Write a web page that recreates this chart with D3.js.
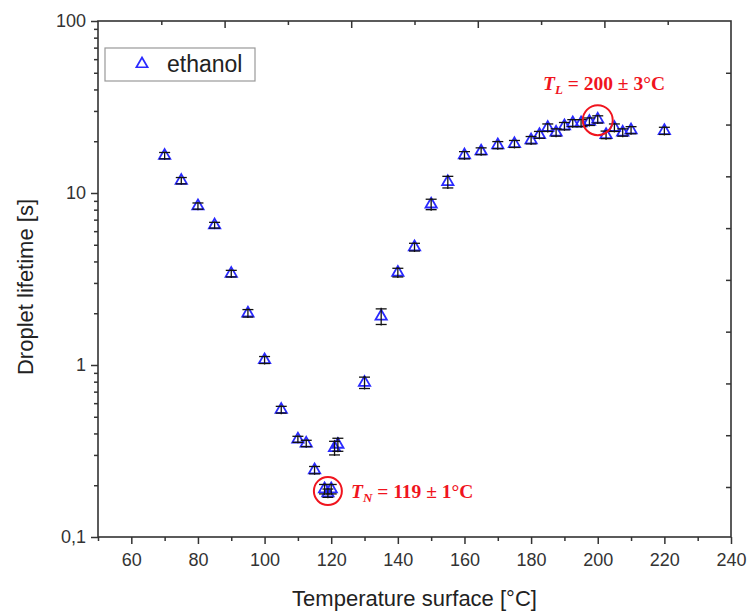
<!DOCTYPE html>
<html>
<head>
<meta charset="utf-8">
<script src="https://cdn.jsdelivr.net/npm/d3@7"></script>
<style>
  html, body { margin: 0; padding: 0; background: #fff; }
  svg { display: block; }
</style>
</head>
<body>
<div id="chart"></div>
<script>
// Surface temperature [°C]
const temperatures = [70, 75, 80, 85, 90, 95, 100, 105, 110, 112.5, 115, 118, 119, 120, 121, 122,
  130, 135, 140, 145, 150, 155, 160, 165, 170, 175, 180, 182.5, 185, 187.5, 190, 192.5, 195,
  197.5, 200, 202.5, 205, 207.5, 210, 220];
// Droplet lifetime [s]
const lifetimes = [16.5, 11.8, 8.4, 6.5, 3.4, 2.0, 1.07, 0.55, 0.37, 0.35, 0.245, 0.19, 0.18, 0.19, 0.33, 0.345,
  0.79, 1.92, 3.45, 4.85, 8.6, 11.6, 16.6, 17.5, 19.0, 19.3, 20.3, 21.8, 24.0, 22.5, 24.5, 25.5, 25.5,
  26.0, 26.8, 21.8, 24.0, 22.5, 23.2, 23.0];
// Standard deviation of the lifetime [s]
const lifetimeErrors = [0.7, 0.5, 0.35, 0.25, 0.15, 0.1, 0.05, 0.025, 0.015, 0.015, 0.012, 0.012, 0.01, 0.012, 0.03, 0.03,
  0.06, 0.2, 0.2, 0.25, 0.6, 0.9, 0.8, 0.8, 0.9, 0.9, 1.0, 1.0, 1.2, 1.1, 1.2, 1.2, 1.2,
  1.3, 1.3, 1.1, 1.2, 1.1, 1.1, 1.1];

const xTickValues = [60, 80, 100, 120, 140, 160, 180, 200, 220, 240];
const yTickValues = [0.1, 1, 10, 100];
const yTickLabels = ["0,1", "1", "10", "100"];
const seriesName = "ethanol";

// Characteristic temperatures: Nukiyama (minimum lifetime) and Leidenfrost (maximum)
const nukiyama = { t: 119, life: 0.185, label: "N", text: " = 119 ± 1°C" };
const leidenfrost = { t: 200, life: 26.5, label: "L", text: " = 200 ± 3°C" };

const W = 749, H = 613;
const M = { left: 98, right: 18, top: 21, bottom: 76 };

const svg = d3.select("#chart").append("svg")
  .attr("width", W).attr("height", H)
  .style("font-family", "'Liberation Sans', Arial, sans-serif");

const x = d3.scaleLinear().domain([50, 240]).range([M.left, W - M.right]);
const y = d3.scaleLog().domain([0.1, 100]).range([H - M.bottom, M.top]);

const axisColor = "#333";

// minor ticks
const xMinor = d3.range(50, 241, 10).filter(v => v % 20 !== 0);
const yMinor = [];
[0.1, 1, 10].forEach(d => { for (let k = 2; k <= 9; k++) yMinor.push(d * k); });

// bottom axis
const gx = svg.append("g").attr("transform", `translate(0,${H - M.bottom})`);
gx.call(d3.axisBottom(x).tickValues(xTickValues).tickSize(7).tickPadding(9).tickFormat(d3.format("d")));
gx.append("g").call(d3.axisBottom(x).tickValues(xMinor).tickSize(4).tickFormat(""));

// left axis
const gy = svg.append("g").attr("transform", `translate(${M.left},0)`);
gy.call(d3.axisLeft(y).tickValues(yTickValues).tickSize(7).tickPadding(5)
  .tickFormat((d, i) => yTickLabels[i]));
gy.append("g").call(d3.axisLeft(y).tickValues(yMinor).tickSize(4).tickFormat(""));

// top axis: ten equal divisions, inward ticks
const xTop = d3.scaleLinear().domain([0, 10]).range([M.left, W - M.right]);
const gt = svg.append("g").attr("transform", `translate(0,${M.top})`);
gt.call(d3.axisBottom(xTop).tickValues([2, 4, 6, 8]).tickSize(7).tickFormat(""));
gt.append("g").call(d3.axisBottom(xTop).tickValues([1, 3, 5, 7, 9]).tickSize(4).tickFormat(""));

// right axis: inward ticks at halving steps
const rightTicks = d3.range(1, 10).map(k => 100 / Math.pow(2, k));
const gr = svg.append("g").attr("transform", `translate(${W - M.right},0)`);
gr.call(d3.axisRight(y).tickValues(rightTicks).tickSize(-5).tickFormat(""));

[gx, gy, gt, gr].forEach(g => {
  g.selectAll(".domain").remove();
  g.selectAll("line").attr("stroke", axisColor).attr("stroke-width", 1.5);
  g.selectAll("text").attr("fill", "#333").style("font-size", "18px")
    .style("font-family", "'Liberation Sans', Arial, sans-serif");
});

// frame
svg.append("rect")
  .attr("x", M.left).attr("y", M.top)
  .attr("width", W - M.left - M.right).attr("height", H - M.top - M.bottom)
  .attr("fill", "none").attr("stroke", axisColor).attr("stroke-width", 1.6);

// axis titles
svg.append("text")
  .attr("x", (M.left + W - M.right) / 2).attr("y", 606)
  .attr("text-anchor", "middle").attr("fill", "#222").style("font-size", "22px")
  .text("Temperature surface [°C]");
svg.append("text")
  .attr("transform", `translate(33,${(M.top + H - M.bottom) / 2 + 8}) rotate(-90)`)
  .attr("text-anchor", "middle").attr("fill", "#222").style("font-size", "22px")
  .text("Droplet lifetime [s]");

// data
const points = temperatures.map((t, i) => ({ t, v: lifetimes[i], e: lifetimeErrors[i] }));
const blue = "#2a2aff";
const tri = d3.symbol().type(d3.symbolTriangle).size(55);

svg.append("g").selectAll("path")
  .data(points).join("path")
  .attr("d", tri)
  .attr("transform", d => `translate(${x(d.t)},${y(d.v)})`)
  .attr("fill", "none").attr("stroke", blue).attr("stroke-width", 1.8);

const capW = 5.5;
const eb = svg.append("g").attr("stroke", "#111").attr("stroke-width", 1.3);
points.forEach(d => {
  const cx = x(d.t), y0 = y(d.v - d.e), y1 = y(d.v + d.e);
  eb.append("line").attr("x1", cx).attr("x2", cx).attr("y1", y0 + 1).attr("y2", y1 - 1);
  eb.append("line").attr("x1", cx - capW).attr("x2", cx + capW).attr("y1", y0).attr("y2", y0);
  eb.append("line").attr("x1", cx - capW).attr("x2", cx + capW).attr("y1", y1).attr("y2", y1);
});

// legend
const lg = svg.append("g");
lg.append("rect").attr("x", 105).attr("y", 48).attr("width", 150).attr("height", 33)
  .attr("fill", "#fff").attr("stroke", "#999").attr("stroke-width", 1.2);
lg.append("path").attr("d", tri).attr("transform", "translate(142,64)")
  .attr("fill", "none").attr("stroke", blue).attr("stroke-width", 1.7);
lg.append("text").attr("x", 167).attr("y", 72).attr("fill", "#222")
  .style("font-size", "23px").text(seriesName);

// annotations
const red = "#f0141e";
function annotate(a, r, tx, ty) {
  svg.append("circle").attr("cx", x(a.t)).attr("cy", y(a.life)).attr("r", r)
    .attr("fill", "none").attr("stroke", red).attr("stroke-width", 2);
  const t = svg.append("text").attr("x", tx).attr("y", ty).attr("fill", red)
    .style("font-family", "'Liberation Serif', 'DejaVu Serif', serif")
    .style("font-weight", "bold").style("font-size", "19.5px");
  t.append("tspan").style("font-style", "italic").text("T");
  t.append("tspan").style("font-style", "italic").style("font-size", "13px")
    .attr("dy", 4).text(a.label);
  t.append("tspan").attr("dy", -4).text(a.text);
}
annotate(nukiyama, 14, 351, 498);
annotate(leidenfrost, 15, 543, 90);
</script>
</body>
</html>
